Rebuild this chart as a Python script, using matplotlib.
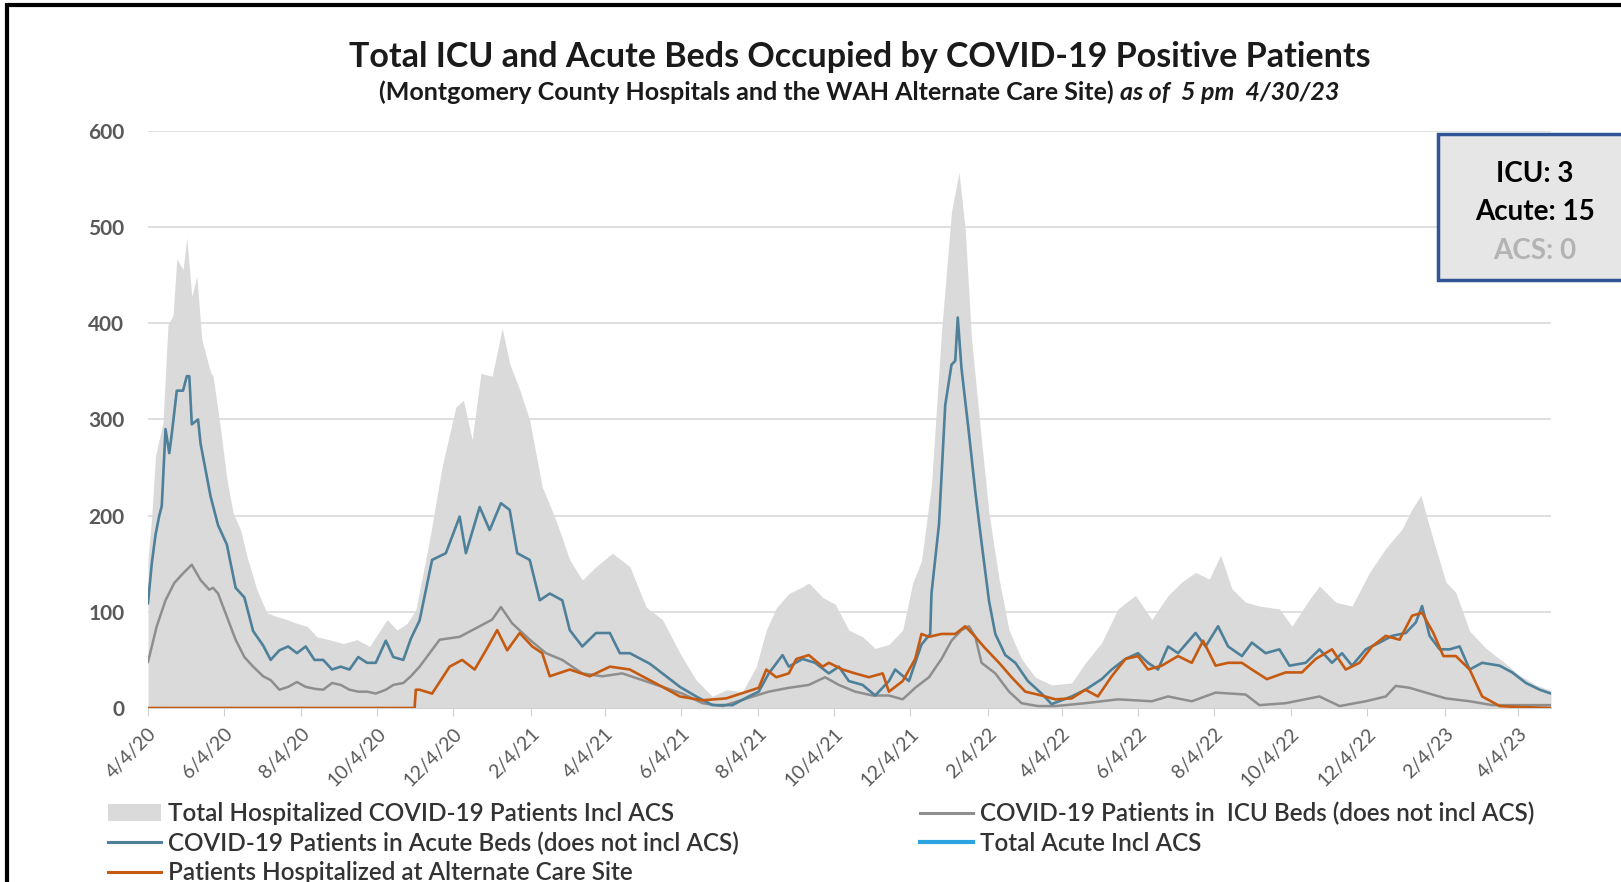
import matplotlib
matplotlib.use("Agg")
import matplotlib.pyplot as plt
import pandas as pd
from matplotlib.patches import Rectangle, Patch
from matplotlib.lines import Line2D

plt.rcParams["font.family"] = ["Lato", "DejaVu Sans"]

# ---- data (x = days since 4/4/20) ----
total_days = [0, 3, 6, 12, 16, 20, 23, 28, 31, 35, 39, 43, 50, 52, 58, 63, 68, 74, 79, 87,
              95, 103, 111, 119, 127, 135, 145, 156, 167, 177, 191, 199, 207, 214, 225, 235,
              246, 252, 259, 266, 275, 283, 289, 297, 305, 315, 326, 337, 347, 358, 371, 385,
              398, 411, 425, 438, 451, 462, 475, 486, 494, 502, 512, 523, 528, 539, 549, 560,
              571, 581, 592, 603, 611, 618, 626, 634, 642, 648, 653, 658, 666, 672, 680, 688,
              698, 709, 722, 738, 749, 762, 775, 789, 802, 815, 826, 837, 848, 857, 866, 877,
              888, 904, 914, 928, 936, 949, 962, 976, 989, 1002, 1010, 1017, 1026, 1037, 1045,
              1056, 1069, 1083, 1096, 1109, 1121]
total_vals = [155, 200, 262, 297, 399, 408, 467, 456, 489, 428, 449, 383, 349, 345, 290, 238,
              203, 185, 158, 123, 99, 95, 92, 88, 85, 74, 71, 67, 71, 64, 92, 81, 88, 102, 175,
              251, 313, 320, 279, 348, 345, 395, 358, 331, 299, 230, 195, 154, 133, 147, 161,
              147, 105, 92, 57, 29, 12, 19, 17, 43, 81, 104, 119, 126, 130, 115, 108, 81, 74,
              62, 66, 81, 130, 153, 232, 391, 516, 557, 497, 384, 278, 202, 134, 81, 51, 32, 24,
              26, 47, 68, 103, 117, 92, 117, 131, 141, 134, 159, 124, 110, 106, 103, 85, 113,
              127, 110, 106, 141, 166, 186, 207, 221, 179, 131, 120, 80, 62, 48, 34, 24, 18]

acute_days = [0, 3, 6, 9, 11, 14, 17, 19, 23, 28, 31, 33, 35, 40, 42, 50, 56, 63, 70, 77,
              84, 92, 98, 105, 112, 119, 126, 133, 140, 147, 154, 161, 168, 175, 182, 190, 196,
              204, 210, 217, 227, 238, 249, 254, 265, 273, 282, 289, 295, 305, 313, 321, 331,
              337, 347, 358, 369, 377, 385, 401, 414, 425, 438, 451, 467, 480, 488, 496, 507,
              512, 523, 533, 544, 552, 560, 571, 581, 592, 597, 608, 618, 625, 626, 632, 637,
              642, 645, 647, 650, 656, 661, 666, 672, 677, 685, 693, 703, 714, 722, 738, 749,
              762, 770, 781, 791, 799, 807, 815, 823, 837, 845, 855, 863, 874, 882, 893, 904,
              912, 925, 936, 946, 954, 962, 973, 984, 994, 1005, 1013, 1018, 1024, 1032, 1040,
              1048, 1056, 1066, 1080, 1090, 1101, 1112, 1121]
acute_vals = [109, 150, 180, 200, 210, 290, 265, 285, 330, 330, 345, 345, 295, 300, 275, 220,
              190, 170, 125, 115, 80, 65, 50, 60, 64, 57, 64, 50, 50, 40, 43, 40, 53, 47, 47,
              70, 53, 50, 72, 91, 154, 161, 199, 161, 209, 185, 213, 206, 161, 154, 112, 119,
              112, 81, 64, 78, 78, 57, 57, 46, 33, 22, 12, 3, 3, 12, 17, 36, 55, 43, 51, 47, 36,
              43, 28, 24, 13, 28, 40, 28, 66, 77, 119, 191, 315, 357, 361, 406, 353, 285, 225,
              172, 111, 77, 55, 47, 28, 15, 4, 12, 19, 30, 40, 51, 57, 47, 40, 64, 57, 78, 64,
              85, 64, 54, 68, 57, 61, 44, 47, 61, 47, 57, 44, 61, 68, 75, 78, 89, 106, 75, 61,
              61, 64, 40, 47, 44, 37, 26, 19, 15]

icu_days = [0, 7, 14, 21, 28, 35, 42, 49, 52, 56, 63, 70, 77, 84, 92, 98, 105, 112, 119, 126,
            133, 140, 147, 154, 161, 168, 175, 182, 190, 196, 204, 210, 217, 233, 249, 265, 275,
            282, 291, 305, 318, 331, 347, 363, 379, 395, 411, 427, 443, 459, 486, 496, 512, 528,
            541, 552, 565, 579, 592, 603, 613, 624, 634, 642, 650, 656, 661, 666, 677, 688, 698,
            711, 725, 749, 775, 802, 815, 834, 853, 877, 888, 909, 936, 952, 973, 989, 997, 1008,
            1021, 1037, 1056, 1074, 1096, 1121]
icu_vals = [48, 85, 112, 130, 140, 149, 133, 123, 125, 119, 95, 71, 53, 43, 33, 29, 19, 22, 27,
            22, 20, 19, 26, 24, 19, 17, 17, 15, 19, 24, 26, 33, 43, 71, 74, 85, 92, 105, 88, 71,
            57, 50, 36, 33, 36, 29, 22, 15, 5, 2, 13, 17, 21, 24, 32, 24, 17, 13, 13, 9, 21, 32,
            51, 70, 81, 85, 74, 47, 36, 17, 5, 2, 2, 5, 9, 7, 12, 7, 16, 14, 3, 5, 12, 2, 7, 12,
            23, 21, 16, 10, 7, 3, 3, 3]

acs_days = [0, 213, 214, 217, 227, 241, 251, 261, 270, 279, 287, 297, 307, 315, 321, 337, 353,
            369, 385, 395, 411, 425, 443, 462, 488, 494, 502, 512, 518, 528, 539, 544, 555, 565,
            576, 587, 592, 603, 613, 618, 624, 634, 645, 653, 661, 669, 680, 690, 701, 714, 725,
            738, 749, 759, 770, 781, 791, 799, 810, 823, 834, 843, 853, 863, 874, 882, 894, 909,
            922, 933, 946, 957, 968, 978, 989, 1000, 1010, 1018, 1027, 1035, 1045, 1056, 1066,
            1080, 1096, 1121]
acs_vals = [0, 0, 19, 19, 15, 43, 50, 40, 60, 81, 60, 78, 64, 57, 33, 40, 33, 43, 40, 33, 22,
            12, 8, 10, 21, 40, 32, 36, 51, 55, 43, 47, 40, 36, 32, 36, 17, 28, 51, 77, 74, 77,
            77, 85, 74, 62, 47, 32, 17, 13, 9, 10, 19, 12, 33, 51, 54, 40, 44, 54, 47, 70, 44,
            47, 47, 40, 30, 37, 37, 51, 61, 40, 47, 64, 75, 71, 96, 99, 78, 54, 54, 40, 12, 2,
            1, 0]

xtick_labels = ["4/4/20", "6/4/20", "8/4/20", "10/4/20", "12/4/20", "2/4/21", "4/4/21",
                "6/4/21", "8/4/21", "10/4/21", "12/4/21", "2/4/22", "4/4/22", "6/4/22",
                "8/4/22", "10/4/22", "12/4/22", "2/4/23", "4/4/23"]
start_date = "2020-04-04"
end_date = "2023-04-30"
box_lines = ["ICU: 3", "Acute: 15", "ACS: 0"]

AREA = "#dadada"
BLUE = "#4e809a"
GREY = "#8e8e8e"
ORANGE = "#c55a11"
BRIGHT = "#2aa3df"
TXT = "#595959"

start = pd.Timestamp(start_date)


def to_dates(days):
    return start + pd.to_timedelta(days, unit="D")


W, H = 1621, 882
fig = plt.figure(figsize=(W / 100, H / 100), dpi=100)
ax = fig.add_axes([148 / W, 1 - 708 / H, (1551 - 148) / W, (708 - 131) / H])

ax.fill_between(to_dates(total_days), total_vals, 0, color=AREA, lw=0, zorder=1)
ax.plot(to_dates(icu_days), icu_vals, color=GREY, lw=1.8, zorder=3)
ax.plot(to_dates(acute_days), acute_vals, color=BLUE, lw=1.9, zorder=4)
ax.plot(to_dates(acs_days), acs_vals, color=ORANGE, lw=1.9, zorder=5)

ax.set_xlim(start, pd.Timestamp(end_date))
ax.set_ylim(0, 600)
ax.set_yticks(range(0, 601, 100))
ax.set_axisbelow("line")
ax.yaxis.grid(True, color="#d9d9d9", lw=1.2)
for s in ["top", "right", "left"]:
    ax.spines[s].set_visible(False)
ax.spines["bottom"].set_color("#d0d0d0")
ax.tick_params(axis="y", length=0, pad=17, labelsize=15, labelcolor=TXT)
for lab in ax.get_yticklabels():
    lab.set_fontweight("bold")

ax.set_xticks(pd.to_datetime(xtick_labels, format="%m/%d/%y"))
ax.set_xticklabels(xtick_labels, rotation=45, ha="right", rotation_mode="anchor")
ax.tick_params(axis="x", length=6, color="#d0d0d0", pad=6, labelsize=14, labelcolor=TXT)

# title / subtitle
fig.text(860 / W, 1 - 57 / H,
         "Total ICU and Acute Beds Occupied by COVID-19 Positive Patients",
         ha="center", va="center", fontsize=24.5, fontweight="bold", color="#1a1a1a")
sub1 = fig.text(0, 1 - 92 / H,
                "(Montgomery County Hospitals and the WAH Alternate Care Site) ",
                ha="left", va="center", fontsize=18, fontweight="bold", color="#1a1a1a")
sub2 = fig.text(0, 1 - 92 / H, "as of  5 pm  4/30/23",
                ha="left", va="center", fontsize=18, fontweight="bold",
                fontstyle="italic", color="#1a1a1a")
fig.canvas.draw()
r = fig.canvas.get_renderer()
w1 = sub1.get_window_extent(r).width
w2 = sub2.get_window_extent(r).width
x0 = 859 - (w1 + w2) / 2
sub1.set_x(x0 / W)
sub2.set_x((x0 + w1) / W)

# status box
fig.add_artist(Rectangle((1438 / W, 1 - 280 / H), 0.2, 146 / H, transform=fig.transFigure,
                         fc="#e7e6e6", ec="#2f5597", lw=2.5, zorder=5))
for txt, y, c in zip(box_lines, [174, 212, 251], ["black", "black", "#b3b3b3"]):
    fig.text(1535 / W, 1 - y / H, txt, ha="center", va="center", fontsize=20,
             fontweight="bold", color=c, zorder=6)

# legends
h_area = Patch(facecolor=AREA, edgecolor="none")
h_acute = Line2D([], [], color=BLUE, lw=2.2)
h_acs = Line2D([], [], color=ORANGE, lw=2.2)
h_icu = Line2D([], [], color=GREY, lw=2.2)
h_tot = Line2D([], [], color=BRIGHT, lw=3)
leg_kw = dict(frameon=False, prop={"size": 17.5, "weight": "semibold"},
              handlelength=2.2, handletextpad=0.25, labelspacing=0.26, borderpad=0,
              borderaxespad=0, labelcolor="#333333")
fig.legend([h_area, h_acute, h_acs],
           ["Total Hospitalized COVID-19 Patients Incl ACS",
            "COVID-19 Patients in Acute Beds (does not incl ACS)",
            "Patients Hospitalized at Alternate Care Site"],
           loc="upper left", bbox_to_anchor=(108 / W, 1 - 802 / H), **leg_kw)
fig.legend([h_icu, h_tot],
           ["COVID-19 Patients in  ICU Beds (does not incl ACS)",
            "Total Acute Incl ACS"],
           loc="upper left", bbox_to_anchor=(920 / W, 1 - 802 / H), **leg_kw)

# outer frame (only top and left edges fall inside the picture)
fig.add_artist(Rectangle((7 / W, -0.5), 2, 1.5 - 5 / H, transform=fig.transFigure,
                         fill=False, ec="black", lw=3, zorder=10))

fig.savefig("out.png", dpi=100)
